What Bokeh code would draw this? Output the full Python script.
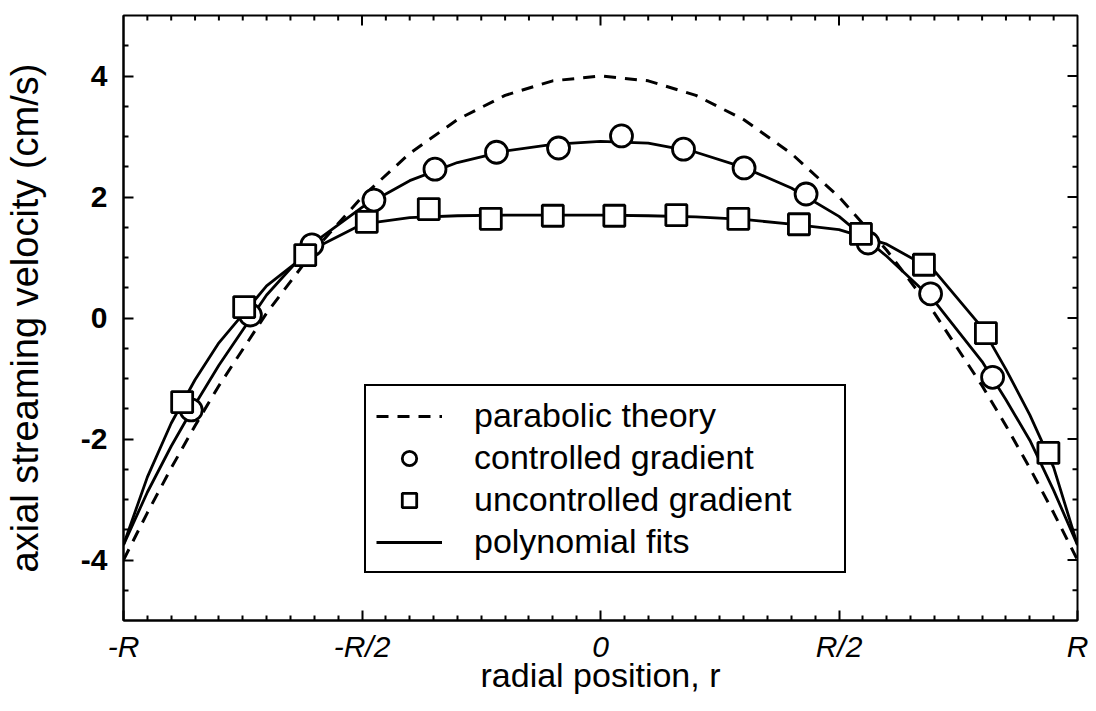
from bokeh.plotting import figure
from bokeh.models import FixedTicker, Legend, LegendItem, Range1d
from bokeh.embed import file_html
from bokeh.resources import INLINE

# ---- data ----
x_tick_values = [-1, -0.5, 0, 0.5, 1]
x_tick_labels = ["-R", "-R/2", "0", "R/2", "R"]
y_tick_values = [-4, -2, 0, 2, 4]
y_tick_labels = ["-4", "-2", "0", "2", "4"]
y_minor_values = [-4.5, -3.5, -3, -2.5, -1.5, -1, -0.5, 0.5, 1, 1.5, 2.5, 3, 3.5, 4.5]

# controlled gradient (circles)
circ_x = [-0.858, -0.734, -0.605, -0.475, -0.347, -0.218, -0.088, 0.044, 0.174, 0.301, 0.431, 0.561, 0.692, 0.822]
circ_y = [-1.52, 0.05, 1.21, 1.95, 2.46, 2.74, 2.81, 3.01, 2.79, 2.48, 2.05, 1.24, 0.40, -0.98]

# uncontrolled gradient (squares)
sq_x = [-0.877, -0.747, -0.619, -0.490, -0.360, -0.230, -0.100, 0.029, 0.159, 0.289, 0.416, 0.546, 0.678, 0.808, 0.939]
sq_y = [-1.39, 0.18, 1.04, 1.59, 1.80, 1.64, 1.69, 1.69, 1.70, 1.64, 1.55, 1.39, 0.88, -0.25, -2.23]

# curves (sampled positions)
curve_x = [-1, -0.95, -0.9, -0.85, -0.8, -0.7, -0.6, -0.5, -0.4, -0.3, -0.2, -0.1, 0,
           0.1, 0.2, 0.3, 0.4, 0.5, 0.6, 0.7, 0.8, 0.85, 0.9, 0.95, 1]
parabolic_y = [-4, -3.22, -2.48, -1.78, -1.12, 0.08, 1.12, 2.0, 2.72, 3.28, 3.68, 3.92, 4.0,
               3.92, 3.68, 3.28, 2.72, 2.0, 1.12, 0.08, -1.12, -1.78, -2.48, -3.22, -4]
fit_controlled_y = [-3.75, -2.88, -2.12, -1.43, -0.78, 0.38, 1.25, 1.83, 2.27, 2.57, 2.76, 2.87, 2.92,
                    2.89, 2.74, 2.49, 2.15, 1.68, 1.02, 0.28, -0.72, -1.35, -2.02, -2.85, -3.75]
fit_uncontrolled_y = [-3.75, -2.63, -1.74, -1.02, -0.41, 0.53, 1.15, 1.55, 1.66, 1.69, 1.70, 1.70, 1.70,
                      1.69, 1.67, 1.63, 1.55, 1.46, 1.22, 0.78, -0.16, -0.85, -1.60, -2.47, -3.75]

FONT = "Liberation Sans"
X0, X1, Y0, Y1 = -1, 1, -5, 5

p = figure(width=1090, height=708,
           x_range=Range1d(X0, X1), y_range=Range1d(Y0, Y1),
           output_backend="svg", toolbar_location=None,
           min_border_left=121, min_border_right=13,
           min_border_top=15, min_border_bottom=88)
p.xgrid.visible = False
p.ygrid.visible = False
p.outline_line_color = "black"
p.outline_line_width = 2
p.outline_line_alpha = 1.0
p.background_fill_color = "white"
p.border_fill_color = "white"

x_minor = [round(-1 + 0.05 * i, 2) for i in range(41) if i % 10 != 0]
xticker = FixedTicker(ticks=x_tick_values, minor_ticks=x_minor)
yticker = FixedTicker(ticks=y_tick_values, minor_ticks=y_minor_values)

MAJ, MIN = 10, 5  # tick lengths in px


def style_axis(ax):
    ax.axis_line_color = "black"
    ax.axis_line_width = 2
    ax.major_tick_line_color = "black"
    ax.major_tick_line_width = 2
    ax.minor_tick_line_color = "black"
    ax.minor_tick_line_width = 2
    ax.major_tick_in = MAJ
    ax.major_tick_out = 0
    ax.minor_tick_in = MIN
    ax.minor_tick_out = 0


xa = p.xaxis[0]
xa.ticker = xticker
style_axis(xa)
xa.major_label_overrides = {v: l for v, l in zip(x_tick_values, x_tick_labels)}
xa.major_label_text_font = FONT
xa.major_label_text_font_size = "30px"
xa.major_label_text_font_style = "italic"
xa.major_label_text_color = "black"
xa.major_label_standoff = 9
xa.axis_label = "radial position, r"
xa.axis_label_text_font = FONT
xa.axis_label_text_font_size = "34px"
xa.axis_label_text_font_style = "normal"
xa.axis_label_text_color = "black"
xa.axis_label_standoff = -10

ya = p.yaxis[0]
ya.ticker = yticker
style_axis(ya)
ya.major_label_overrides = {v: l for v, l in zip(y_tick_values, y_tick_labels)}
ya.major_label_text_font = FONT
ya.major_label_text_font_size = "30px"
ya.major_label_text_font_style = "bold"
ya.major_label_text_color = "black"
ya.major_label_standoff = 16
ya.axis_label = "axial streaming velocity (cm/s)"
ya.axis_label_text_font = FONT
ya.axis_label_text_font_size = "38px"
ya.axis_label_text_font_style = "normal"
ya.axis_label_text_color = "black"
ya.axis_label_standoff = 32

# mirrored ticks on the top and right frame edges (from the tick arrays)
frame_w_px, frame_h_px = 956.0, 605.0
ux = (X1 - X0) / frame_w_px   # data units per px along x
uy = (Y1 - Y0) / frame_h_px   # data units per px along y
top_major = [v for v in x_tick_values if X0 < v < X1]
p.segment(x0=top_major, y0=[Y1] * len(top_major), x1=top_major,
          y1=[Y1 - MAJ * uy] * len(top_major), line_color="black", line_width=2)
p.segment(x0=x_minor, y0=[Y1] * len(x_minor), x1=x_minor,
          y1=[Y1 - MIN * uy] * len(x_minor), line_color="black", line_width=2)
p.segment(x0=[X1] * len(y_tick_values), y0=y_tick_values,
          x1=[X1 - MAJ * ux] * len(y_tick_values), y1=y_tick_values,
          line_color="black", line_width=2)
p.segment(x0=[X1] * len(y_minor_values), y0=y_minor_values,
          x1=[X1 - MIN * ux] * len(y_minor_values), y1=y_minor_values,
          line_color="black", line_width=2)

r_par = p.line(curve_x, parabolic_y, line_color="black", line_width=3, line_dash="12 9")
r_fit1 = p.line(curve_x, fit_controlled_y, line_color="black", line_width=2.8)
r_fit2 = p.line(curve_x, fit_uncontrolled_y, line_color="black", line_width=2.8)
r_circ = p.scatter(circ_x, circ_y, marker="circle", size=22, fill_color="white",
                   line_color="black", line_width=2.8)
r_sq = p.scatter(sq_x, sq_y, marker="square", size=21, fill_color="white",
                 line_color="black", line_width=2.8)

legend = Legend(items=[
    LegendItem(label="parabolic theory", renderers=[r_par]),
    LegendItem(label="controlled gradient", renderers=[r_circ]),
    LegendItem(label="uncontrolled gradient", renderers=[r_sq]),
    LegendItem(label="polynomial fits", renderers=[r_fit1]),
], location=(241, 47), margin=0, padding=10, spacing=3,
    label_height=36, glyph_height=36, glyph_width=66, label_standoff=32, label_width=360,
    label_text_font=FONT, label_text_font_size="34px", label_text_color="black",
    border_line_color="black", border_line_width=2, border_line_alpha=1.0,
    background_fill_color="white", background_fill_alpha=1.0)
p.add_layout(legend)

open("out.html", "w").write(file_html(p, INLINE))
